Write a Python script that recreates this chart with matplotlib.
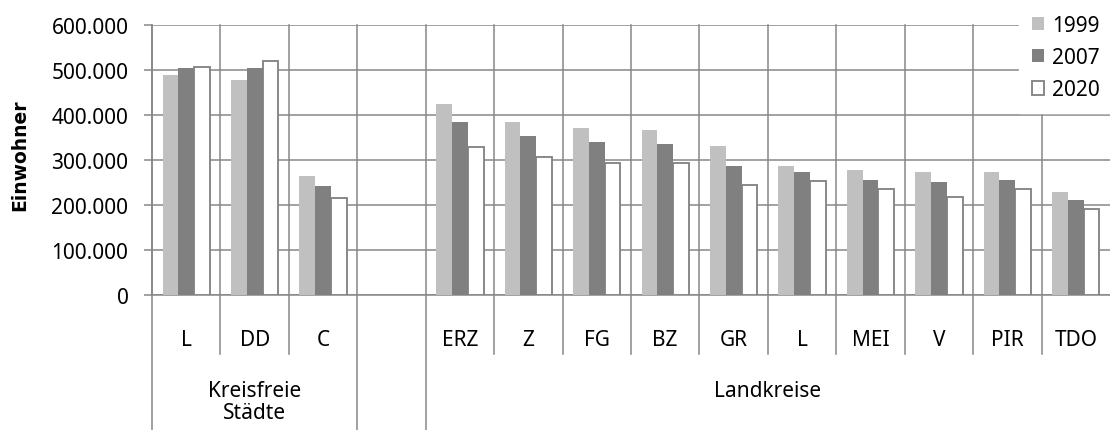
import numpy as np
import matplotlib
matplotlib.use("Agg")
import matplotlib.pyplot as plt

plt.rcParams['font.family'] = ['Noto Sans', 'DejaVu Sans']

# Einwohner je Kreis (Sachsen), gap between the two groups stays empty
kreise = ["L", "DD", "C", "", "ERZ", "Z", "FG", "BZ", "GR", "L", "MEI", "V", "PIR", "TDO"]
ew_1999 = [490000, 478000, 264000, np.nan, 424000, 384000, 371000, 367000, 331000, 287000, 278000, 273000, 273000, 229000]
ew_2007 = [504000, 504000, 242000, np.nan, 384000, 353000, 340000, 336000, 287000, 273000, 256000, 251000, 256000, 211000]
ew_2020 = [507000, 521000, 215000, np.nan, 330000, 307000, 294000, 293000, 245000, 254000, 236000, 218000, 236000, 192000]
jahre = ["1999", "2007", "2020"]

# top-level groups: (label, first index, last index)
gruppen = [("Kreisfreie\nStädte", 0, 2), ("", 3, 3), ("Landkreise", 4, 13)]

grid_col = "#878787"
fs = 15

fig = plt.figure(figsize=(11.1, 4.31), dpi=100)
W, H = 1110, 431
left, right, top, bottom = 152, 1110, 26, 296
ax = fig.add_axes([left / W, (H - bottom) / H, (right - left) / W, (bottom - top) / H])

x = np.arange(len(kreise))
bw = 0.23
ax.bar(x - bw, ew_1999, bw, color="#c0c0c0", label=jahre[0], zorder=3)
ax.bar(x, ew_2007, bw, color="#808080", label=jahre[1], zorder=3)
ax.bar(x + bw, ew_2020, bw, color="white", edgecolor="#808080", linewidth=1.3,
       label=jahre[2], zorder=3)

ax.set_xlim(-0.5, len(kreise) - 0.5)
ax.set_ylim(0, 600000)
ax.set_yticks(np.arange(0, 600001, 100000))
ax.set_yticklabels(["0" if v == 0 else f"{v // 1000}.000" for v in range(0, 600001, 100000)],
                   fontsize=fs)
ax.tick_params(axis="y", length=6, width=1.1, color=grid_col, pad=11)
ax.yaxis.grid(True, color=grid_col, linewidth=1.1, zorder=0)
ax.set_xticks([])
ax.set_axisbelow(True)

for s in ["top", "right"]:
    ax.spines[s].set_visible(False)
for s in ["left", "bottom"]:
    ax.spines[s].set_color(grid_col)
    ax.spines[s].set_linewidth(1.1)

ax.set_ylabel("Einwohner", fontsize=13.5, fontweight="bold", family="DejaVu Sans")
ax.yaxis.set_label_coords(-123 / (right - left), 0.52)

# vertical grid lines through the plot and down into the label rows
trans = ax.get_xaxis_transform()
grenzen = {g[1] - 0.5 for g in gruppen}
row1 = -(355 - bottom) / (bottom - top)
row2 = -(H - bottom) / (bottom - top)
for b in np.arange(-0.5, len(kreise) - 0.5, 1.0):
    low = row2 if b in grenzen else row1
    ax.plot([b, b], [low, 1], transform=trans, color=grid_col, linewidth=1.1,
            clip_on=False, zorder=1)

for i, name in enumerate(kreise):
    ax.text(i, -(341 - bottom) / (bottom - top), name, transform=trans,
            ha="center", va="center", fontsize=fs)

for name, a, b in gruppen:
    ax.text((a + b) / 2, -(381 - bottom) / (bottom - top), name, transform=trans,
            ha="center", va="top", fontsize=fs, linespacing=1.05)

leg = fig.legend(loc="upper left", bbox_to_anchor=(1019 / W, 1 - 3 / H), fontsize=fs,
                 frameon=True, fancybox=False, edgecolor="white", facecolor="white",
                 framealpha=1, handlelength=0.6, handleheight=0.6, handletextpad=0.4,
                 labelspacing=0.55, borderpad=0.6, borderaxespad=0)
leg.set_zorder(10)

fig.savefig("out.png", dpi=100)
